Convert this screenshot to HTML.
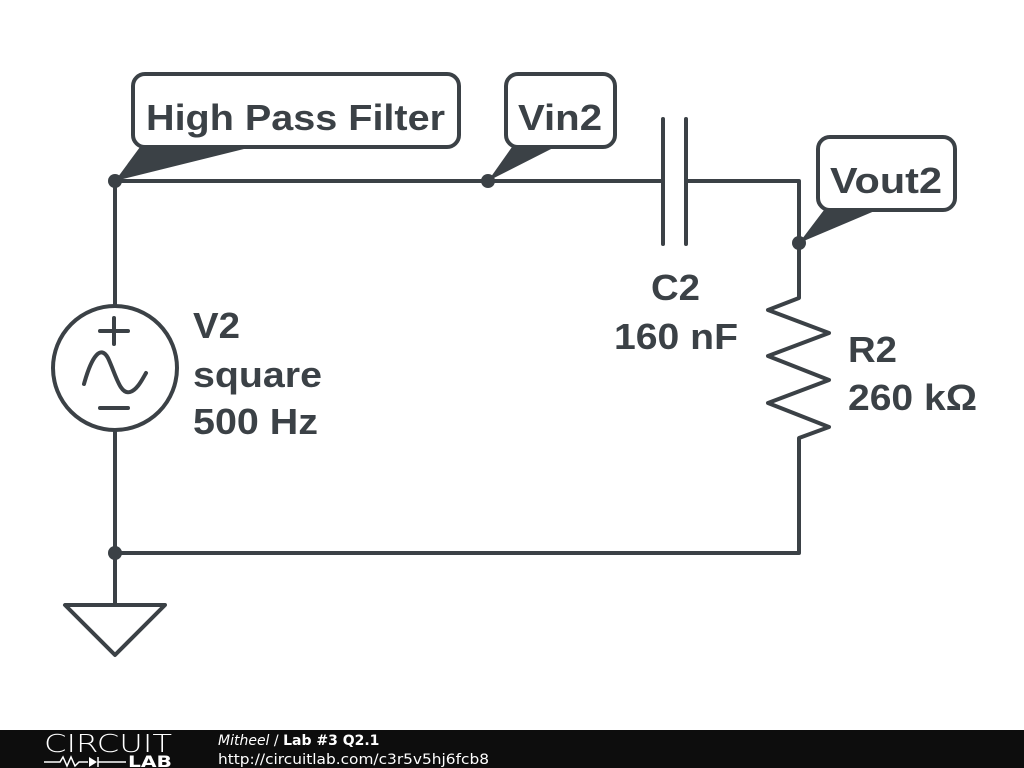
<!DOCTYPE html>
<html><head><meta charset="utf-8"><style>
html,body{margin:0;padding:0;background:#fff;width:1024px;height:768px;overflow:hidden}
.t{font-family:"Liberation Sans",Arial,sans-serif;font-weight:bold;font-size:36px;fill:#3b4146}
.f{font-family:"DejaVu Sans",sans-serif;fill:#fff}
</style></head><body>
<svg width="1024" height="768" viewBox="0 0 1024 768" xmlns="http://www.w3.org/2000/svg">
<g stroke="#3b4146" stroke-width="4" fill="none" stroke-linecap="round" stroke-linejoin="round">
<polyline points="663,181 115,181 115,306"/>
<polyline points="686,181 799,181 799,298 768,310 829,333 768,356 829,380 768,403 829,427 799,438 799,553 115,553 115,430"/>
<line x1="115" y1="553" x2="115" y2="605"/>
<polygon points="65,605 165,605 115,655"/>
<line x1="663" y1="119" x2="663" y2="244"/>
<line x1="686" y1="119" x2="686" y2="244"/>
<circle cx="115" cy="368" r="62"/>
<line x1="100" y1="331" x2="128" y2="331"/>
<line x1="114" y1="318" x2="114" y2="344"/>
<line x1="100" y1="408" x2="128" y2="408"/>
<path d="M84,384 C92,355 101,345 108,358 C116,375 120,395 130,392 C137,390 142,380 146,373"/>
<rect x="133" y="74" width="326" height="73" rx="12"/>
<rect x="506" y="74" width="109" height="73" rx="12"/>
<rect x="818" y="137" width="137" height="73" rx="12"/>
</g>
<g fill="#3b4146">
<polygon points="140,147 252,147 115,181"/>
<polygon points="512,147 555,147 488,181"/>
<polygon points="824,210 877,210 799,243"/>
<circle cx="115" cy="181" r="7"/>
<circle cx="488" cy="181" r="7"/>
<circle cx="799" cy="243" r="7"/>
<circle cx="115" cy="553" r="7"/>
</g>
<text class="t" x="146" y="130" textLength="299" lengthAdjust="spacingAndGlyphs">High Pass Filter</text>
<text class="t" x="518" y="130" textLength="84" lengthAdjust="spacingAndGlyphs">Vin2</text>
<text class="t" x="830" y="193" textLength="112" lengthAdjust="spacingAndGlyphs">Vout2</text>
<text class="t" x="651" y="300" textLength="49" lengthAdjust="spacingAndGlyphs">C2</text>
<text class="t" x="614" y="349" textLength="124" lengthAdjust="spacingAndGlyphs">160 nF</text>
<text class="t" x="848" y="362" textLength="49" lengthAdjust="spacingAndGlyphs">R2</text>
<text class="t" x="848" y="410" textLength="129" lengthAdjust="spacingAndGlyphs">260 kΩ</text>
<text class="t" x="193" y="338" textLength="47" lengthAdjust="spacingAndGlyphs">V2</text>
<text class="t" x="193" y="387" textLength="129" lengthAdjust="spacingAndGlyphs">square</text>
<text class="t" x="193" y="434" textLength="125" lengthAdjust="spacingAndGlyphs">500 Hz</text>
<rect x="0" y="730" width="1024" height="38" fill="#0d0d0d"/>
<text class="f" x="44" y="752" font-size="25" font-weight="200" textLength="128" lengthAdjust="spacingAndGlyphs">CIRCUIT</text>
<text class="f" x="128" y="767" font-size="16" font-weight="bold" textLength="44" lengthAdjust="spacingAndGlyphs">LAB</text>
<polyline points="44,762 60,762 63,757 67,766 71,757 75,766 79,762 88,762" stroke="#fff" stroke-width="1.5" fill="none"/>
<polygon points="89,757 89,767 97,762" fill="#fff"/>
<line x1="98" y1="757" x2="98" y2="767" stroke="#fff" stroke-width="1.5"/>
<line x1="98" y1="762" x2="126" y2="762" stroke="#fff" stroke-width="1.5"/>
<text class="f" x="218" y="745" font-size="14"><tspan font-style="italic">Mitheel</tspan> / <tspan font-weight="bold">Lab #3 Q2.1</tspan></text>
<text class="f" x="218" y="764" font-size="14" textLength="271" lengthAdjust="spacingAndGlyphs">http://circuitlab.com/c3r5v5hj6fcb8</text>
</svg>
</body></html>
